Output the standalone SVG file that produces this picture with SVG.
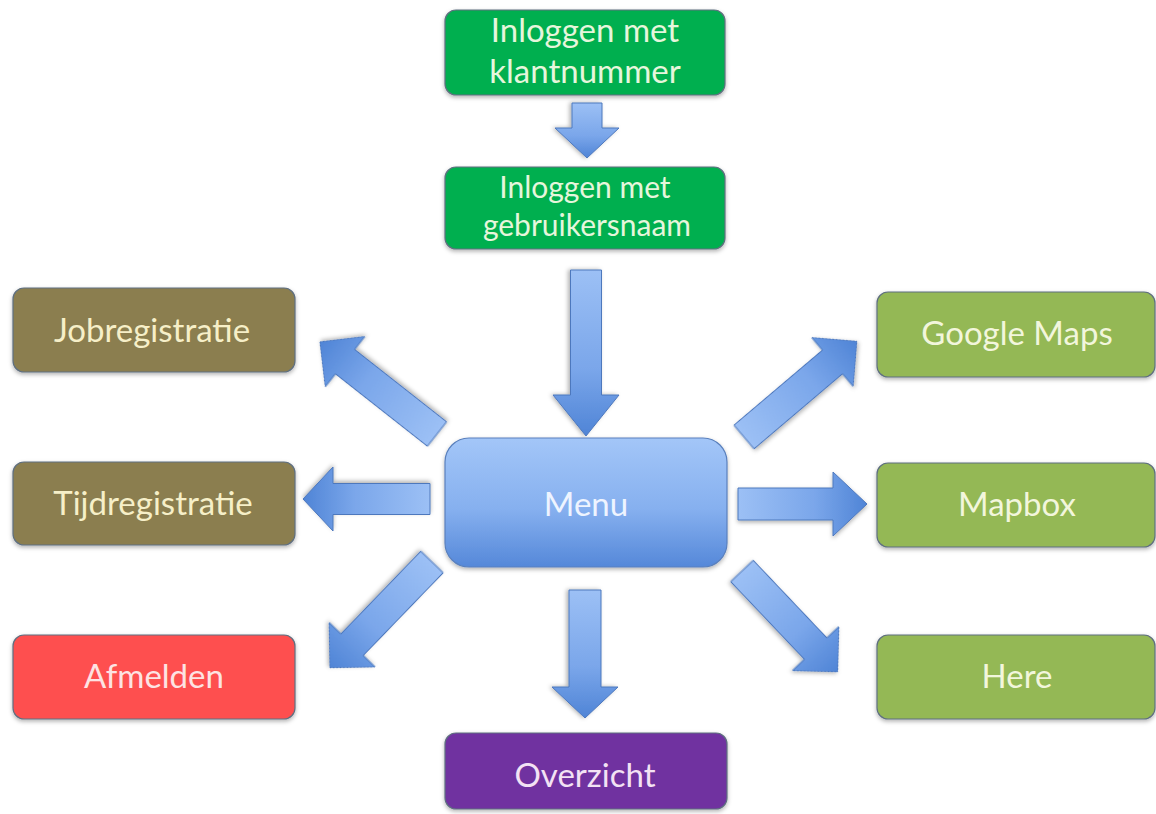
<svg xmlns="http://www.w3.org/2000/svg" width="1156" height="814" viewBox="0 0 1156 814">
<defs>
  <linearGradient id="arrowGrad" x1="0" y1="0" x2="1" y2="0">
    <stop offset="0" stop-color="#9cc0f5"/>
    <stop offset="0.6" stop-color="#7aa6ea"/>
    <stop offset="1" stop-color="#4f84d6"/>
  </linearGradient>
  <linearGradient id="menuGrad" x1="0" y1="0" x2="0" y2="1">
    <stop offset="0" stop-color="#a3c6f8"/>
    <stop offset="0.55" stop-color="#86b0ef"/>
    <stop offset="1" stop-color="#5588d9"/>
  </linearGradient>
  <filter id="shadow" x="-10%" y="-10%" width="120%" height="130%">
    <feDropShadow dx="0" dy="2" stdDeviation="2" flood-color="#000" flood-opacity="0.3"/>
  </filter>
</defs>
<style>
  .box { stroke: #5f6f80; stroke-width: 1.2; filter: url(#shadow); }
  .green { fill: #06af50; }
  .olive { fill: #8b7e4f; }
  .red { fill: #fe4f4f; }
  .purple { fill: #7030a0; }
  .lgreen { fill: #94b855; }
  .menu { fill: url(#menuGrad); stroke: #5a80bd; stroke-width: 1.2; filter: url(#shadow); }
  .arrow { fill: url(#arrowGrad); stroke: #4d78bd; stroke-width: 1; filter: url(#shadow); }
  text { font-family: Lato, "Open Sans", "Liberation Sans", sans-serif; font-size: 33px; text-anchor: middle; }
  .small { font-size: 30px; }
  .tgreen { fill: #e6f6dc; }
  .tolive { fill: #f6efc8; }
  .tred { fill: #fde3e3; }
  .tpurple { fill: #f3e2f4; }
  .tlgreen { fill: #f2f6dc; }
  .tmenu { fill: #eef4ff; }
</style>

<g id="connectors">
  <!-- klantnummer -> gebruikersnaam -->
  <path class="arrow" transform="translate(587,103) rotate(90)" d="M0,-15 L25,-15 L25,-32 L55,0 L25,32 L25,15 L0,15 Z"/>
  <!-- gebruikersnaam -> Menu -->
  <path class="arrow" transform="translate(586,270) rotate(90)" d="M0,-15.5 L125,-15.5 L125,-33 L166,0 L125,33 L125,15.5 L0,15.5 Z"/>
  <!-- Menu -> Jobregistratie -->
  <path class="arrow" transform="translate(437,434) rotate(-141.8)" d="M0,-15.5 L117,-15.5 L117,-32 L149,0 L117,32 L117,15.5 L0,15.5 Z"/>
  <!-- Menu -> Tijdregistratie -->
  <path class="arrow" transform="translate(430,499) rotate(180)" d="M0,-15.5 L97,-15.5 L97,-32 L127,0 L97,32 L97,15.5 L0,15.5 Z"/>
  <!-- Menu -> Afmelden -->
  <path class="arrow" transform="translate(432,562) rotate(134)" d="M0,-15.5 L115,-15.5 L115,-32 L147,0 L115,32 L115,15.5 L0,15.5 Z"/>
  <!-- Menu -> Overzicht -->
  <path class="arrow" transform="translate(585,590) rotate(90)" d="M0,-16 L97,-16 L97,-33 L128,0 L97,33 L97,16 L0,16 Z"/>
  <!-- Menu -> Google Maps -->
  <path class="arrow" transform="translate(744,437) rotate(-40.3)" d="M0,-15.5 L116,-15.5 L116,-32 L148,0 L116,32 L116,15.5 L0,15.5 Z"/>
  <!-- Menu -> Mapbox -->
  <path class="arrow" transform="translate(738,504) rotate(0)" d="M0,-16 L95,-16 L95,-32 L129,0 L95,32 L95,16 L0,16 Z"/>
  <!-- Menu -> Here -->
  <path class="arrow" transform="translate(742,571) rotate(46.5)" d="M0,-15.5 L107,-15.5 L107,-32 L139,0 L107,32 L107,15.5 L0,15.5 Z"/>
</g>

<g id="node-klantnummer">
  <rect class="box green" x="445" y="10" width="280" height="85" rx="11"/>
  <text class="tgreen" x="585" y="42">Inloggen met</text>
  <text class="tgreen" x="585" y="83">klantnummer</text>
</g>
<g id="node-gebruikersnaam">
  <rect class="box green" x="445" y="167" width="280" height="82" rx="11"/>
  <text class="tgreen small" x="585" y="198">Inloggen met</text>
  <text class="tgreen small" x="587" y="236">gebruikersnaam</text>
</g>
<g id="node-menu">
  <rect class="menu" x="445" y="438" width="282" height="129" rx="24"/>
  <text class="tmenu" x="586" y="516">Menu</text>
</g>
<g id="node-jobregistratie">
  <rect class="box olive" x="13" y="288" width="282" height="84" rx="11"/>
  <text class="tolive" x="152" y="342">Jobregistratie</text>
</g>
<g id="node-tijdregistratie">
  <rect class="box olive" x="13" y="462" width="282" height="83" rx="11"/>
  <text class="tolive" x="153" y="515">Tijdregistratie</text>
</g>
<g id="node-afmelden">
  <rect class="box red" x="13" y="635" width="282" height="84" rx="11"/>
  <text class="tred" x="154" y="688">Afmelden</text>
</g>
<g id="node-overzicht">
  <rect class="box purple" x="445" y="733" width="282" height="76" rx="11"/>
  <text class="tpurple" x="585" y="787">Overzicht</text>
</g>
<g id="node-googlemaps">
  <rect class="box lgreen" x="877" y="292" width="278" height="85" rx="11"/>
  <text class="tlgreen" x="1017" y="345">Google Maps</text>
</g>
<g id="node-mapbox">
  <rect class="box lgreen" x="877" y="463" width="278" height="84" rx="11"/>
  <text class="tlgreen" x="1017" y="516">Mapbox</text>
</g>
<g id="node-here">
  <rect class="box lgreen" x="877" y="635" width="278" height="84" rx="11"/>
  <text class="tlgreen" x="1017" y="688">Here</text>
</g>
</svg>
